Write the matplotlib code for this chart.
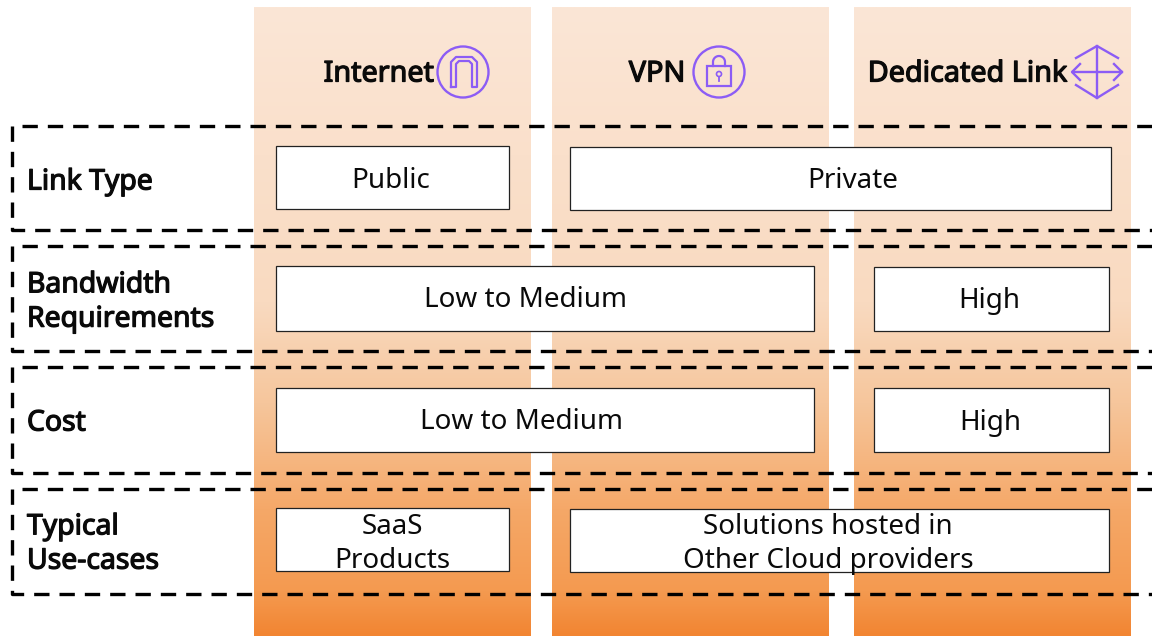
import numpy as np
from matplotlib import pyplot as plt
from matplotlib.colors import LinearSegmentedColormap
from matplotlib.patches import Rectangle, Circle
import matplotlib.patheffects as pe

W, H = 1152, 636

columns = ['Internet', 'VPN', 'Dedicated Link']
row_labels = ['Link Type', 'Bandwidth\nRequirements', 'Cost', 'Typical\nUse-cases']
link_type = ['Public', 'Private']
bandwidth = ['Low to Medium', 'High']
cost = ['Low to Medium', 'High']
use_cases = ['SaaS\nProducts', 'Solutions hosted in\nOther Cloud providers']

plt.rcParams['font.family'] = ['Noto Sans', 'DejaVu Sans']
ink = '#0a0a0a'
purple = '#8c5cf5'
# the installed Noto Sans has no bold cut, so thicken it with a stroke
heavy = [pe.withStroke(linewidth=0.9, foreground=ink)]

fig = plt.figure(figsize=(W / 100, H / 100), dpi=100)
ax = fig.add_axes([0, 0, 1, 1])
ax.set_xlim(0, W)
ax.set_ylim(H, 0)
ax.axis('off')

# column backgrounds, pale at the top and orange at the bottom
cmap = LinearSegmentedColormap.from_list('col', [
    (0.0, '#fbe6d6'), (0.47, '#f9dac0'), (0.63, '#f6c69c'),
    (0.8, '#f5a868'), (0.93, '#f49a50'), (1.0, '#f28532')])
grad = np.linspace(0, 1, 256).reshape(-1, 1)
for x0, x1 in [(254, 531), (552, 829), (854, 1131)]:
    ax.imshow(grad, cmap=cmap, extent=(x0, x1, H, 7), aspect='auto', zorder=1)
ax.set_xlim(0, W)
ax.set_ylim(H, 0)

# column headers
for x, name in zip([379, 657, 968], columns):
    ax.text(x, 74, name, ha='center', va='center', fontsize=20.7, color=ink, path_effects=heavy, zorder=5)

# internet icon
ax.add_patch(Circle((463, 72), 25.5, fill=False, ec=purple, lw=1.7, zorder=5))
ax.plot([451, 451, 456, 472, 477, 477, 472, 472, 469, 459, 456, 456, 451],
        [87, 62, 57, 57, 62, 87, 87, 64, 61, 61, 64, 87, 87], color=purple, lw=1.6, zorder=5)

# vpn icon
ax.add_patch(Circle((719, 72), 25.5, fill=False, ec=purple, lw=1.7, zorder=5))
ax.add_patch(Rectangle((707, 66), 24, 20, fill=False, ec=purple, lw=1.6, zorder=5))
t = np.linspace(np.pi, 2 * np.pi, 30)
ax.plot(np.r_[713, 719 + 6 * np.cos(t), 725], np.r_[66, 62 + 6 * np.sin(t), 66], color=purple, lw=1.6, zorder=5)
ax.add_patch(Circle((719, 74), 2.5, fill=False, ec=purple, lw=1.2, zorder=5))
ax.plot([719, 719], [76.5, 81], color=purple, lw=1.3, zorder=5)

# dedicated link icon
ax.plot([1097, 1097], [46, 98], color=purple, lw=1.7, zorder=5)
ax.plot([1073, 1122], [72, 72], color=purple, lw=1.7, zorder=5)
ax.plot([1076, 1097, 1118], [58, 46, 58], color=purple, lw=1.7, zorder=5)
ax.plot([1076, 1097, 1118], [85, 98, 85], color=purple, lw=1.7, zorder=5)
ax.plot([1080, 1072, 1080], [64, 72, 80], color=purple, lw=1.7, zorder=5)
ax.plot([1114, 1122, 1114], [64, 72, 80], color=purple, lw=1.7, zorder=5)

# dashed row frames, open on the right
dash = dict(color='black', lw=2.4, linestyle=(0, (4.6, 3.0)), zorder=4)
for top, bottom in [(125.5, 230), (245.5, 351), (366.5, 473), (488.5, 594)]:
    ax.plot([1152, 12, 12, 1152], [top, top, bottom, bottom], **dash)

# row labels
for y, label in zip([182, 302, 423, 544], row_labels):
    ax.text(27, y, label, ha='left', va='center', fontsize=20.4, color=ink,
            linespacing=1.24, path_effects=heavy, zorder=5)

# boxes
def box(x0, y0, x1, y1, label, tx, ty):
    ax.add_patch(Rectangle((x0, y0), x1 - x0, y1 - y0, fc='white', ec='#222222', lw=0.9, zorder=3))
    ax.text(tx, ty, label, ha='center', va='center', fontsize=20, color=ink, linespacing=1.28, zorder=5)

box(275.5, 145.5, 509, 209, link_type[0], 391, 181)
box(570, 146.5, 1111, 210, link_type[1], 853, 181)
box(275.5, 265.5, 814, 331, bandwidth[0], 525, 300)
box(874, 266.5, 1108.5, 331, bandwidth[1], 989, 301)
box(275.5, 387.5, 814, 452, cost[0], 521, 422)
box(874, 387.5, 1108.5, 452, cost[1], 990, 423)
box(275.5, 507.5, 509, 571, use_cases[0], 392, 544)
box(570, 508.5, 1108.5, 572, use_cases[1], 828, 544)

fig.savefig('out.png', dpi=100)
